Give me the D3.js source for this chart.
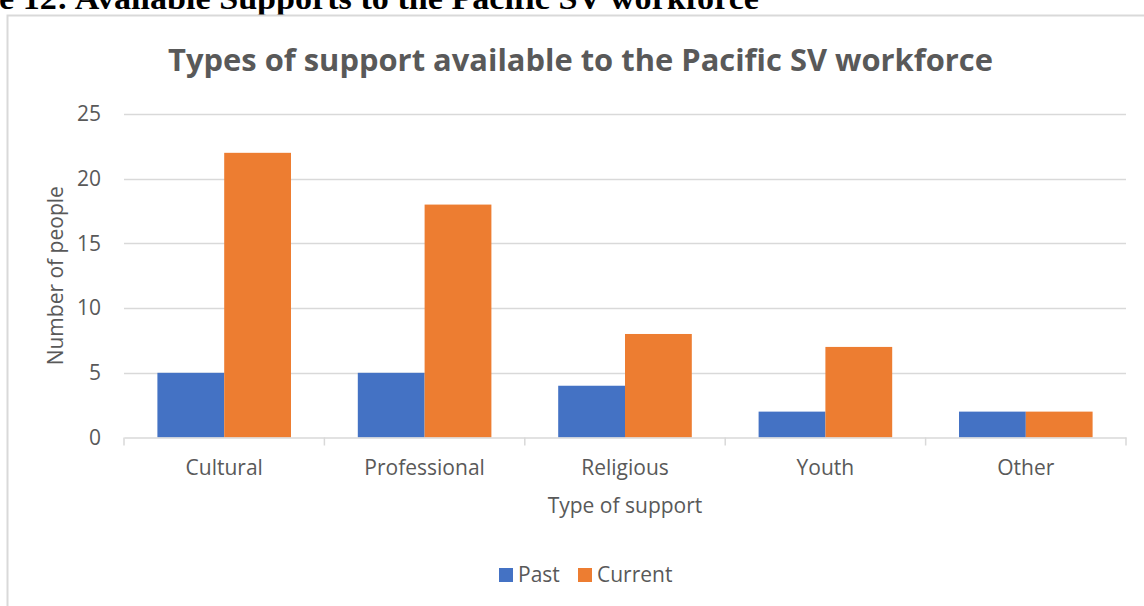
<!DOCTYPE html>
<html>
<head>
<meta charset="utf-8">
<script src="https://d3js.org/d3.v7.min.js"></script>
<style>
  html, body { margin: 0; padding: 0; background: #fff; overflow: hidden; }
  svg { display: block; }
</style>
</head>
<body>
<svg id="chart" width="1144" height="606"></svg>
<script>
// Support types and counts of people
const categories = ["Cultural", "Professional", "Religious", "Youth", "Other"];
const seriesNames = ["Past", "Current"];
const pastValues = [5, 5, 4, 2, 2];
const currentValues = [22, 18, 8, 7, 2];
const yTicks = [0, 5, 10, 15, 20, 25];

const colors = { Past: "#4472C4", Current: "#ED7D31" };
const textGray = "#595959";
const font = "'Open Sans', Lato, sans-serif";
const labelSize = 21;

const rows = categories.map((c, i) => ({ category: c, Past: pastValues[i], Current: currentValues[i] }));

const svg = d3.select("#chart");

// Document heading above the chart frame
svg.append("text")
  .attr("x", -1).attr("y", 9)
  .attr("font-family", "'Liberation Serif', serif")
  .attr("font-weight", "bold")
  .attr("font-size", 31)
  .attr("textLength", 760)
  .attr("lengthAdjust", "spacingAndGlyphs")
  .attr("fill", "#000")
  .text("e 12: Available Supports to the Pacific SV workforce");

// Chart frame
svg.append("rect")
  .attr("x", 7.5).attr("y", 15.5)
  .attr("width", 1150).attr("height", 600)
  .attr("fill", "#fff")
  .attr("stroke", "#d9d9d9")
  .attr("stroke-width", 2);

const margin = { left: 124, right: 1126, top: 114, bottom: 437.5 };

const x0 = d3.scaleBand().domain(categories).range([margin.left, margin.right]).paddingInner(0).paddingOuter(0);
const x1 = d3.scaleBand().domain(seriesNames).range([0, x0.bandwidth()]).paddingInner(0).paddingOuter(0.5);
const y = d3.scaleLinear().domain([0, 25]).range([margin.bottom, margin.top]);

// Horizontal gridlines
svg.append("g").selectAll("line")
  .data(yTicks.filter(t => t > 0))
  .join("line")
  .attr("x1", margin.left).attr("x2", margin.right)
  .attr("y1", d => Math.round(y(d)) + 0.5).attr("y2", d => Math.round(y(d)) + 0.5)
  .attr("stroke", "#d9d9d9").attr("stroke-width", 1.5);

// Y axis tick labels
const yAxis = d3.axisLeft(y).tickValues(yTicks).tickSize(0).tickPadding(0);
const yg = svg.append("g").attr("transform", `translate(${margin.left - 23},0)`).call(yAxis);
yg.select(".domain").remove();
yg.selectAll("text")
  .attr("font-family", font).attr("font-size", labelSize).attr("fill", textGray);

// Bars
const groups = svg.append("g").selectAll("g")
  .data(rows)
  .join("g")
  .attr("transform", d => `translate(${x0(d.category)},0)`);

groups.selectAll("rect")
  .data(d => seriesNames.map(s => ({ key: s, value: d[s] })))
  .join("rect")
  .attr("x", d => x1(d.key))
  .attr("width", x1.bandwidth())
  .attr("y", d => y(d.value))
  .attr("height", d => y(0) - y(d.value))
  .attr("fill", d => colors[d.key]);

// X axis baseline with tick marks at category boundaries
const xAxis = d3.axisBottom(x0).tickSize(0).tickPadding(23);
const xg = svg.append("g").attr("transform", `translate(0,${margin.bottom})`).call(xAxis);
xg.select(".domain").attr("stroke", "#d9d9d9").attr("stroke-width", 1.5);
xg.selectAll("text")
  .attr("font-family", font).attr("font-size", labelSize).attr("fill", textGray);
const bounds = categories.map(c => x0(c)).concat([margin.right]);
xg.selectAll(".bound").data(bounds).join("line")
  .attr("class", "bound")
  .attr("x1", d => d).attr("x2", d => d)
  .attr("y1", 0).attr("y2", 8)
  .attr("stroke", "#d9d9d9").attr("stroke-width", 1.5);

// Title
svg.append("text")
  .attr("x", 168).attr("y", 71)
  .attr("font-family", font).attr("font-weight", "bold")
  .attr("font-size", 31)
  .attr("textLength", 825)
  .attr("lengthAdjust", "spacingAndGlyphs")
  .attr("fill", textGray)
  .text("Types of support available to the Pacific SV workforce");

// Axis titles
svg.append("text")
  .attr("x", (margin.left + margin.right) / 2).attr("y", 513)
  .attr("text-anchor", "middle")
  .attr("font-family", font).attr("font-size", labelSize).attr("fill", textGray)
  .text("Type of support");

svg.append("text")
  .attr("transform", `translate(63,${(margin.top + margin.bottom) / 2}) rotate(-90)`)
  .attr("text-anchor", "middle")
  .attr("font-family", font).attr("font-size", labelSize).attr("fill", textGray)
  .text("Number of people");

// Legend
const legendItems = [{ key: "Past", x: 499 }, { key: "Current", x: 578 }];
const lg = svg.append("g").selectAll("g").data(legendItems).join("g")
  .attr("transform", d => `translate(${d.x},568)`);
lg.append("rect").attr("width", 14).attr("height", 14).attr("fill", d => colors[d.key]);
lg.append("text").attr("x", 19).attr("y", 14)
  .attr("font-family", font).attr("font-size", labelSize).attr("fill", textGray)
  .text(d => d.key);
</script>
</body>
</html>
